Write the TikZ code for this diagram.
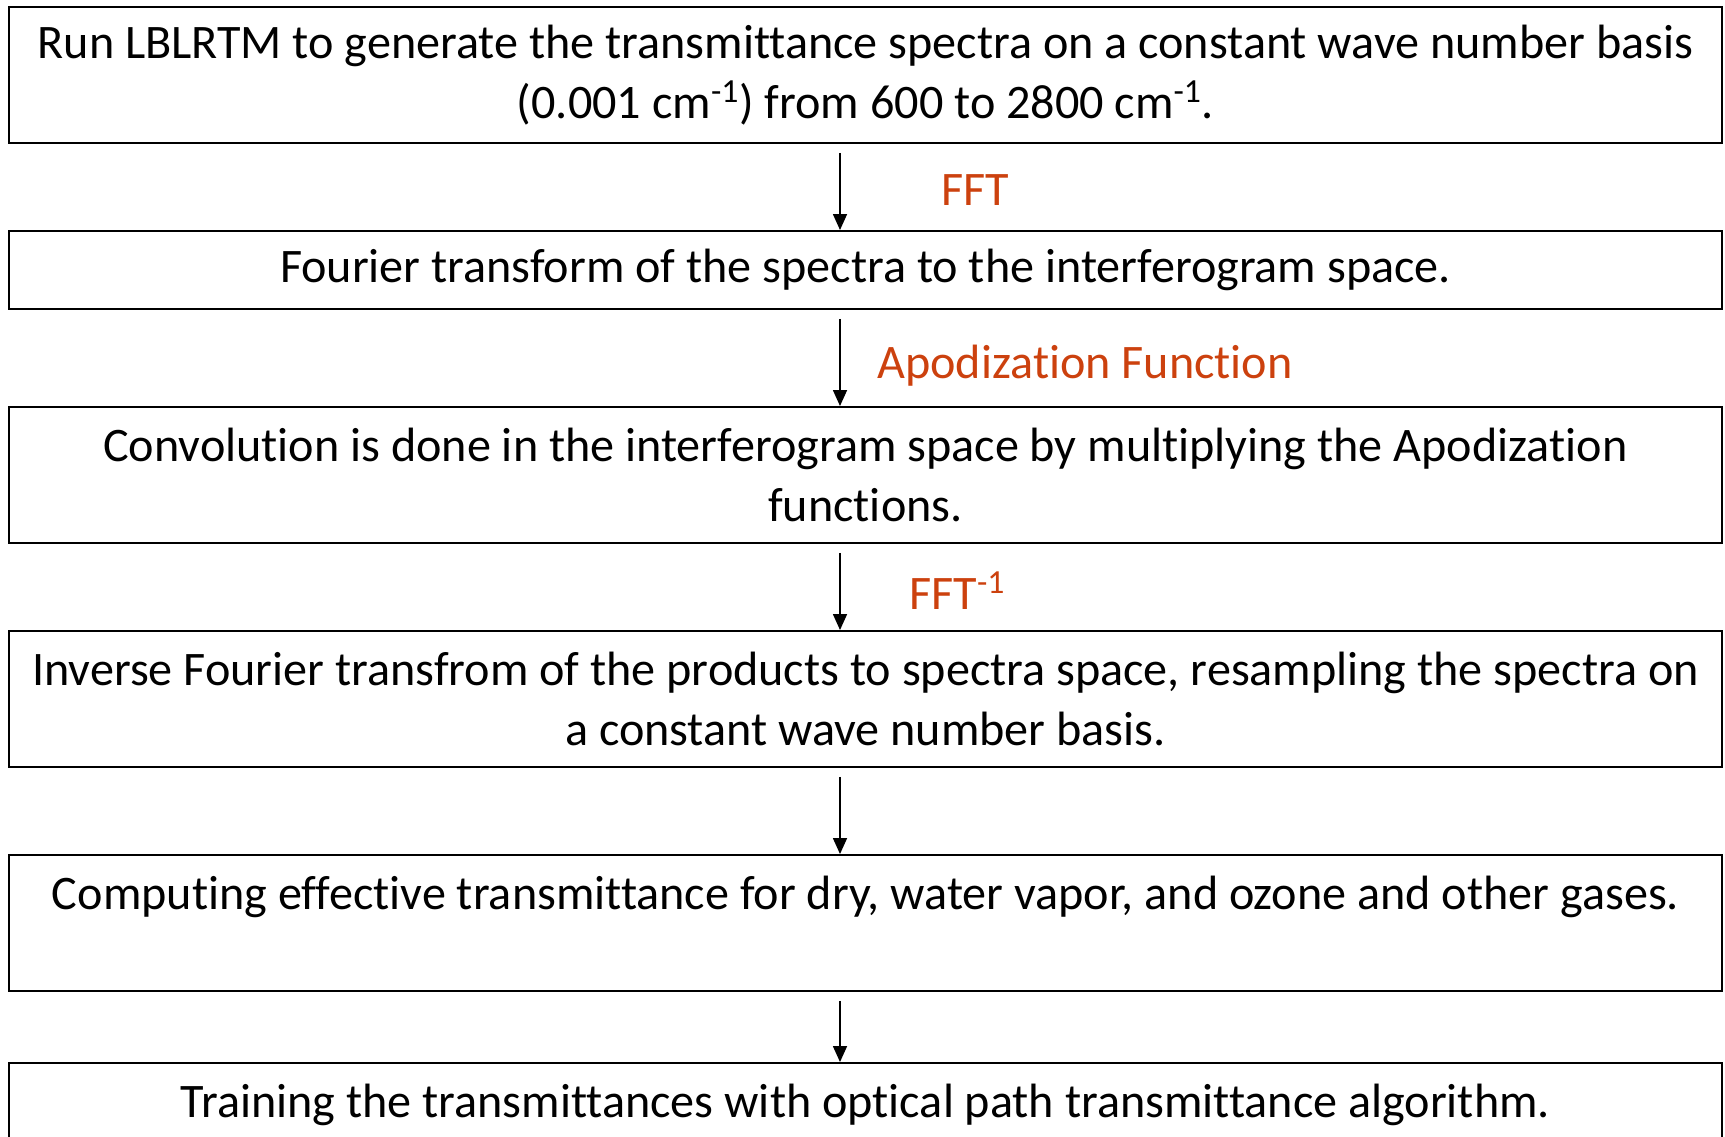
\documentclass[tikz,border=0pt]{standalone}
\usepackage{fontspec}
\setmainfont[Ligatures=NoCommon]{Carlito}
\definecolor{opred}{RGB}{204,65,14}
\usetikzlibrary{arrows.meta}

\begin{document}
\begin{tikzpicture}[
  every node/.style={font=\fontsize{27.4}{34.5}\selectfont, align=center, inner sep=0pt},
  stepbox/.style={draw, line width=1.1pt, minimum width=34.26cm, minimum height=2.72cm},
  flow/.style={-{Triangle[length=0.32cm,width=0.28cm]}, line width=0.9pt, shorten <=0.18cm},
  oplabel/.style={text=opred, anchor=west},
]
\useasboundingbox (0,0) rectangle (34.5,-22.72);
\clip (0,0) rectangle (34.5,-22.72);

% Processing steps
\node[stepbox] (b1) at (17.31,-1.50)
      {Run LBLRTM to generate the transmittance spectra on a constant wave number basis\\(0.001 cm\textsuperscript{-1}) from 600 to 2800 cm\textsuperscript{-1}.};
\node[stepbox, minimum height=1.56cm] (b2) at (17.31,-5.40)
      {Fourier transform of the spectra to the interferogram space.};
\node[stepbox] (b3) at (17.31,-9.50)
      {Convolution is done in the interferogram space by multiplying the Apodization\\functions.};
\node[stepbox] (b4) at (17.31,-13.98)
      {Inverse Fourier transfrom of the products to spectra space, resampling the spectra on\\a constant wave number basis.};
\node[stepbox] (b5) at (17.31,-18.46)
      {Computing effective transmittance for dry, water vapor, and ozone and other gases.\\\mbox{}};
\node[stepbox] (b6) at (17.31,-22.62)
      {Training the transmittances with optical path transmittance algorithm.\\\mbox{}};

% Arrows down the left of centre
\coordinate (axis) at (16.8,0);
\draw[flow] (b1.south -| axis) -- (b2.north -| axis);
\draw[flow] (b2.south -| axis) -- (b3.north -| axis);
\draw[flow] (b3.south -| axis) -- (b4.north -| axis);
\draw[flow] (b4.south -| axis) -- (b5.north -| axis);
\draw[flow] (b5.south -| axis) -- (b6.north -| axis);

% Operation labels
\node[oplabel] (fft) at (18.82,-3.80) {FFT};
\node[oplabel] (apod) at (17.54,-7.32) {Apodization Function};
\node[oplabel] (ifft) at (18.18,-11.82) {FFT\textsuperscript{-1}};

\end{tikzpicture}
\end{document}
